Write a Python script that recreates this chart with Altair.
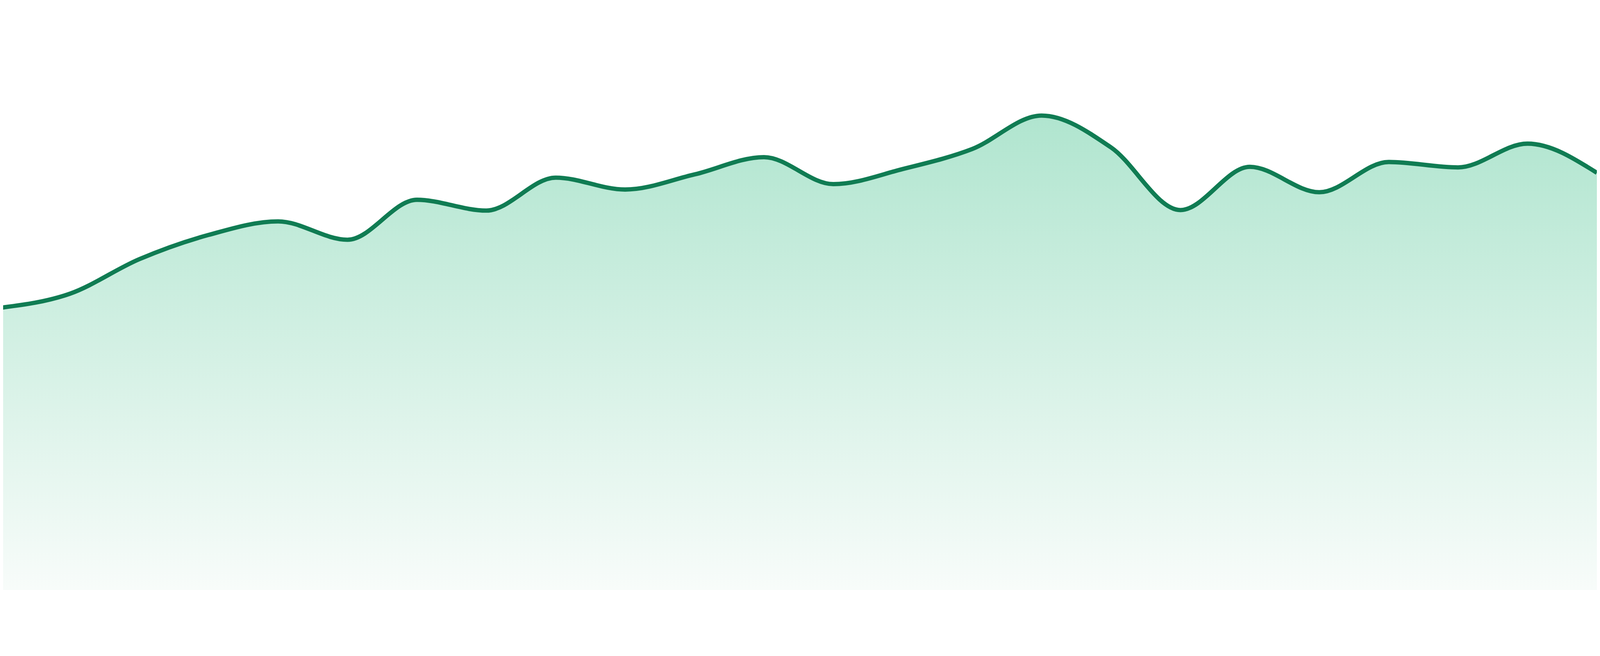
import altair as alt
import pandas as pd

# data (index positions and values)
idx = list(range(24))
values = [52.3, 54.9, 61.3, 65.8, 68.3, 64.9, 72.3, 70.3, 76.4, 74.2, 77.0, 80.2,
          75.2, 78.0, 81.7, 87.9, 82.0, 70.4, 78.4, 73.7, 79.3, 78.3, 82.7, 77.3]

df = pd.DataFrame({"i": idx, "v": values})

x = alt.X("i:Q", axis=None, scale=alt.Scale(domain=[0.0383, 23], nice=False, zero=False))
y = alt.Y("v:Q", axis=None, scale=alt.Scale(domain=[0, 100], nice=False, zero=True))

area = alt.Chart(df).mark_area(
    interpolate="monotone",
    clip=True,
    color=alt.Gradient(
        gradient="linear",
        stops=[alt.GradientStop(color="#b0e5cf", offset=0),
               alt.GradientStop(color="#f8fcfa", offset=1)],
        x1=1, x2=1, y1=0, y2=1,
    ),
).encode(x=x, y=y)

line = alt.Chart(df).mark_line(
    interpolate="monotone", clip=True, color="#107c53", strokeWidth=13
).encode(x=x, y=y)

chart = alt.layer(area, line).properties(
    width=4792, height=1624, padding=0
).configure_view(stroke=None)

chart.save("out.html", embed_options={"renderer": "svg", "actions": False})
